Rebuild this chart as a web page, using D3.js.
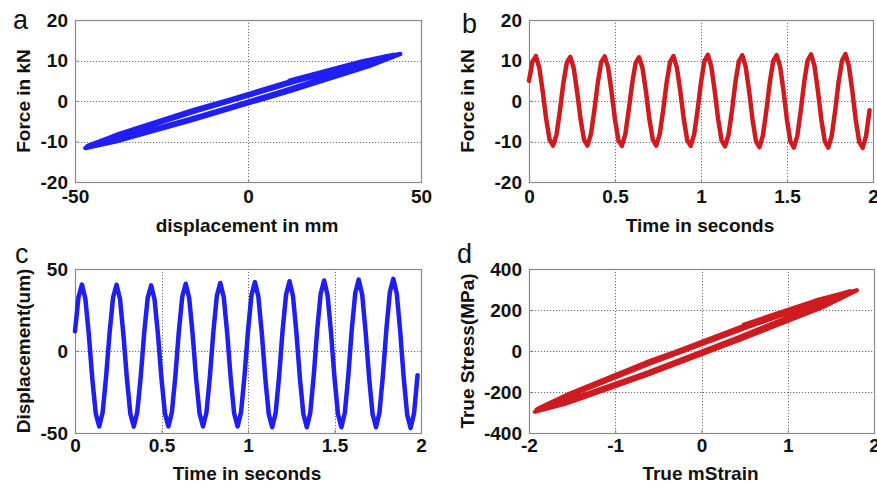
<!DOCTYPE html>
<html><head><meta charset="utf-8">
<script src="https://cdn.jsdelivr.net/npm/d3@7"></script>
<style>
body{margin:0;background:#fff}
svg{display:block}
text{font-family:"Liberation Sans",Arial,Helvetica,sans-serif}
</style>
</head><body>
<svg id="fig" width="877" height="483"></svg>
<script>
// ---- data ----
const timeSec = [
0.00,0.02,0.04,0.06,0.08,0.10,0.12,0.14,0.16,0.18,
0.20,0.22,0.24,0.26,0.28,0.30,0.32,0.34,0.36,0.38,
0.40,0.42,0.44,0.46,0.48,0.50,0.52,0.54,0.56,0.58,
0.60,0.62,0.64,0.66,0.68,0.70,0.72,0.74,0.76,0.78,
0.80,0.82,0.84,0.86,0.88,0.90,0.92,0.94,0.96,0.98,
1.00,1.02,1.04,1.06,1.08,1.10,1.12,1.14,1.16,1.18,
1.20,1.22,1.24,1.26,1.28,1.30,1.32,1.34,1.36,1.38,
1.40,1.42,1.44,1.46,1.48,1.50,1.52,1.54,1.56,1.58,
1.60,1.62,1.64,1.66,1.68,1.70,1.72,1.74,1.76,1.78,
1.80,1.82,1.84,1.86,1.88,1.90,1.92,1.94,1.96,1.98];

const forceKN = [
5.0,9.7,11.1,8.2,2.3,-4.5,-9.6,-11.0,-8.3,-2.3,
4.5,9.5,10.9,8.1,2.2,-4.5,-9.6,-11.0,-8.2,-2.3,
4.5,9.6,11.0,8.3,2.3,-4.6,-9.7,-11.1,-8.2,-2.2,
4.4,9.4,10.8,8.1,2.3,-4.5,-9.6,-11.0,-8.2,-2.3,
4.5,9.6,11.1,8.2,2.3,-4.5,-9.7,-11.1,-8.3,-2.3,
4.6,9.9,11.4,8.5,2.4,-4.6,-9.8,-11.2,-8.4,-2.4,
4.6,9.8,11.3,8.4,2.4,-4.7,-10.0,-11.4,-8.5,-2.4,
4.6,9.9,11.3,8.5,2.4,-4.7,-10.0,-11.5,-8.6,-2.4,
4.7,10.0,11.5,8.6,2.4,-4.7,-10.0,-11.5,-8.6,-2.4,
4.7,10.0,11.6,8.6,2.4,-4.7,-10.1,-11.6,-8.6,-2.3];

const displacement = [
12.0,32.7,40.5,31.8,9.9,-16.9,-38.2,-46.0,-37.3,-15.4,
11.2,32.6,40.4,31.9,9.8,-16.8,-38.3,-46.1,-37.2,-15.5,
11.0,32.2,40.0,31.4,9.6,-17.0,-38.2,-46.0,-37.4,-15.6,
11.7,33.1,41.0,32.3,10.2,-16.7,-38.1,-46.0,-37.3,-15.2,
12.0,33.6,41.5,32.7,10.5,-16.5,-38.1,-46.0,-37.2,-15.0,
12.2,34.0,42.0,33.1,10.7,-16.7,-38.5,-46.5,-37.6,-15.2,
12.5,34.4,42.5,33.6,11.0,-16.5,-38.4,-46.5,-37.6,-15.0,
12.8,34.9,43.0,34.0,11.3,-16.3,-38.4,-46.5,-37.5,-14.8,
13.2,35.4,43.5,34.5,11.6,-16.2,-38.4,-46.5,-37.5,-14.6,
13.3,35.8,44.0,34.9,11.8,-16.3,-38.8,-47.0,-37.9,-14.8];

const trueMStrain = [
0.49,1.34,1.66,1.30,0.41,-0.69,-1.57,-1.89,-1.53,-0.63,
0.46,1.34,1.66,1.31,0.40,-0.69,-1.57,-1.89,-1.53,-0.64,
0.45,1.32,1.64,1.29,0.39,-0.70,-1.57,-1.89,-1.53,-0.64,
0.48,1.36,1.68,1.32,0.42,-0.68,-1.56,-1.89,-1.53,-0.62,
0.49,1.38,1.70,1.34,0.43,-0.68,-1.56,-1.89,-1.53,-0.62,
0.50,1.39,1.72,1.36,0.44,-0.68,-1.58,-1.91,-1.54,-0.62,
0.51,1.41,1.74,1.38,0.45,-0.68,-1.57,-1.91,-1.54,-0.62,
0.52,1.43,1.76,1.39,0.46,-0.67,-1.57,-1.91,-1.54,-0.61,
0.54,1.45,1.78,1.41,0.48,-0.66,-1.57,-1.91,-1.54,-0.60,
0.55,1.47,1.80,1.43,0.48,-0.67,-1.59,-1.93,-1.55,-0.61];

const trueStressMPa = [
128,247,283,209,59,-115,-245,-281,-212,-59,
115,242,278,207,56,-115,-245,-281,-209,-59,
115,245,281,212,59,-117,-247,-283,-209,-56,
112,240,275,207,59,-115,-245,-281,-209,-59,
115,245,283,209,59,-115,-247,-283,-212,-59,
117,252,291,217,61,-117,-250,-286,-214,-61,
117,250,288,214,61,-120,-255,-291,-217,-61,
117,252,288,217,61,-120,-255,-293,-219,-61,
120,255,293,219,61,-120,-255,-293,-219,-61,
120,255,296,219,61,-120,-258,-296,-219,-59];

const ticksDispMM = [-50, 0, 50];
const ticksForce = [-20, -10, 0, 10, 20];
const ticksTime = [0, 0.5, 1, 1.5, 2];
const ticksDispUm = [-50, 0, 50];
const ticksStrain = [-2, -1, 0, 1, 2];
const ticksStress = [-400, -200, 0, 200, 400];

const panelLetters = ["a", "b", "c", "d"];
const xTitles = ["displacement in mm", "Time in seconds", "Time in seconds", "True mStrain"];
const yTitles = ["Force in kN", "Force in kN", "Displacement(um)", "True Stress(MPa)"];

// ---- drawing ----
const BLUE = "#1e1ef5", RED = "#cf1b20";
const svg = d3.select("#fig");
svg.append("rect").attr("width", 877).attr("height", 483).attr("fill", "#fff");

function panel(o) {
  const x = d3.scaleLinear().domain(d3.extent(o.xTicks)).range([o.x0, o.x1]);
  const y = d3.scaleLinear().domain(d3.extent(o.yTicks)).range([o.y1, o.y0]);
  const g = svg.append("g");
  const xd = x.domain(), yd = y.domain();
  g.selectAll(null).data(o.xTicks.filter(t => t !== xd[0] && t !== xd[1])).join("line")
    .attr("x1", d => Math.round(x(d)) + 0.5).attr("x2", d => Math.round(x(d)) + 0.5)
    .attr("y1", o.y0).attr("y2", o.y1)
    .attr("stroke", "#6e6e6e").attr("stroke-width", 1).attr("stroke-dasharray", "1.2,1.8");
  g.selectAll(null).data(o.yTicks.filter(t => t !== yd[0] && t !== yd[1])).join("line")
    .attr("y1", d => Math.round(y(d)) + 0.5).attr("y2", d => Math.round(y(d)) + 0.5)
    .attr("x1", o.x0).attr("x2", o.x1)
    .attr("stroke", "#6e6e6e").attr("stroke-width", 1).attr("stroke-dasharray", "1.2,1.8");
  g.append("rect").attr("x", o.x0 + 0.5).attr("y", o.y0 + 0.5)
    .attr("width", o.x1 - o.x0).attr("height", o.y1 - o.y0)
    .attr("fill", "none").attr("stroke", "#8a8a8a").attr("stroke-width", 1.2);
  const fmt = d => String(d);
  const ax = g.append("g").attr("transform", `translate(0,${o.y1})`)
    .call(d3.axisBottom(x).tickValues(o.xTicks).tickFormat(fmt).tickSizeInner(-3).tickSizeOuter(0).tickPadding(o.xPad));
  const ay = g.append("g").attr("transform", `translate(${o.x0},0)`)
    .call(d3.axisLeft(y).tickValues(o.yTicks).tickFormat(fmt).tickSizeInner(-3).tickSizeOuter(0).tickPadding(7));
  [ax, ay].forEach(a => {
    a.select(".domain").remove();
    a.selectAll("line").attr("stroke", "#8a8a8a");
    a.selectAll("text").attr("fill", "#111").style("font-size", "19px").style("font-weight", "bold")
      .style("font-family", '"Liberation Sans",Arial,sans-serif');
  });
  const line = d3.line().x(i => x(o.xs[i])).y(i => y(o.ys[i]));
  g.append("path").datum(d3.range(o.xs.length)).attr("d", line)
    .attr("fill", "none").attr("stroke", o.color).attr("stroke-width", 4.5)
    .attr("stroke-linejoin", "round").attr("stroke-linecap", "round");
  g.append("text").attr("x", (o.x0 + o.x1) / 2 - 1).attr("y", o.xTitleY)
    .attr("text-anchor", "middle").style("font-size", "19px").style("font-weight", "bold")
    .attr("fill", "#111").text(o.xTitle);
  g.append("text").attr("transform", `translate(${o.yTitleX},${(o.y0 + o.y1) / 2}) rotate(-90)`)
    .attr("text-anchor", "middle").style("font-size", "19px").style("font-weight", "bold")
    .attr("fill", "#111").text(o.yTitle);
  g.append("text").attr("x", o.lx).attr("y", o.ly).style("font-size", "27px")
    .attr("fill", "#111").text(o.letter);
}

panel({x0: 75, x1: 421, y0: 20, y1: 182, xTicks: ticksDispMM, yTicks: ticksForce,
  xs: displacement, ys: forceKN, color: BLUE, xPad: 8, xTitle: xTitles[0], yTitle: yTitles[0],
  xTitleY: 232, yTitleX: 30, letter: panelLetters[0], lx: 13, ly: 29});
panel({x0: 529, x1: 873, y0: 20, y1: 182, xTicks: ticksTime, yTicks: ticksForce,
  xs: timeSec, ys: forceKN, color: RED, xPad: 8, xTitle: xTitles[1], yTitle: yTitles[1],
  xTitleY: 232, yTitleX: 474, letter: panelLetters[1], lx: 462, ly: 33});
panel({x0: 75, x1: 421, y0: 269, y1: 433, xTicks: ticksTime, yTicks: ticksDispUm,
  xs: timeSec, ys: displacement, color: BLUE, xPad: 6, xTitle: xTitles[2], yTitle: yTitles[2],
  xTitleY: 480, yTitleX: 30, letter: panelLetters[2], lx: 15, ly: 263});
panel({x0: 529, x1: 874, y0: 269, y1: 433, xTicks: ticksStrain, yTicks: ticksStress,
  xs: trueMStrain, ys: trueStressMPa, color: RED, xPad: 6, xTitle: xTitles[3], yTitle: yTitles[3],
  xTitleY: 480, yTitleX: 474, letter: panelLetters[3], lx: 457, ly: 263});
</script>
</body></html>
